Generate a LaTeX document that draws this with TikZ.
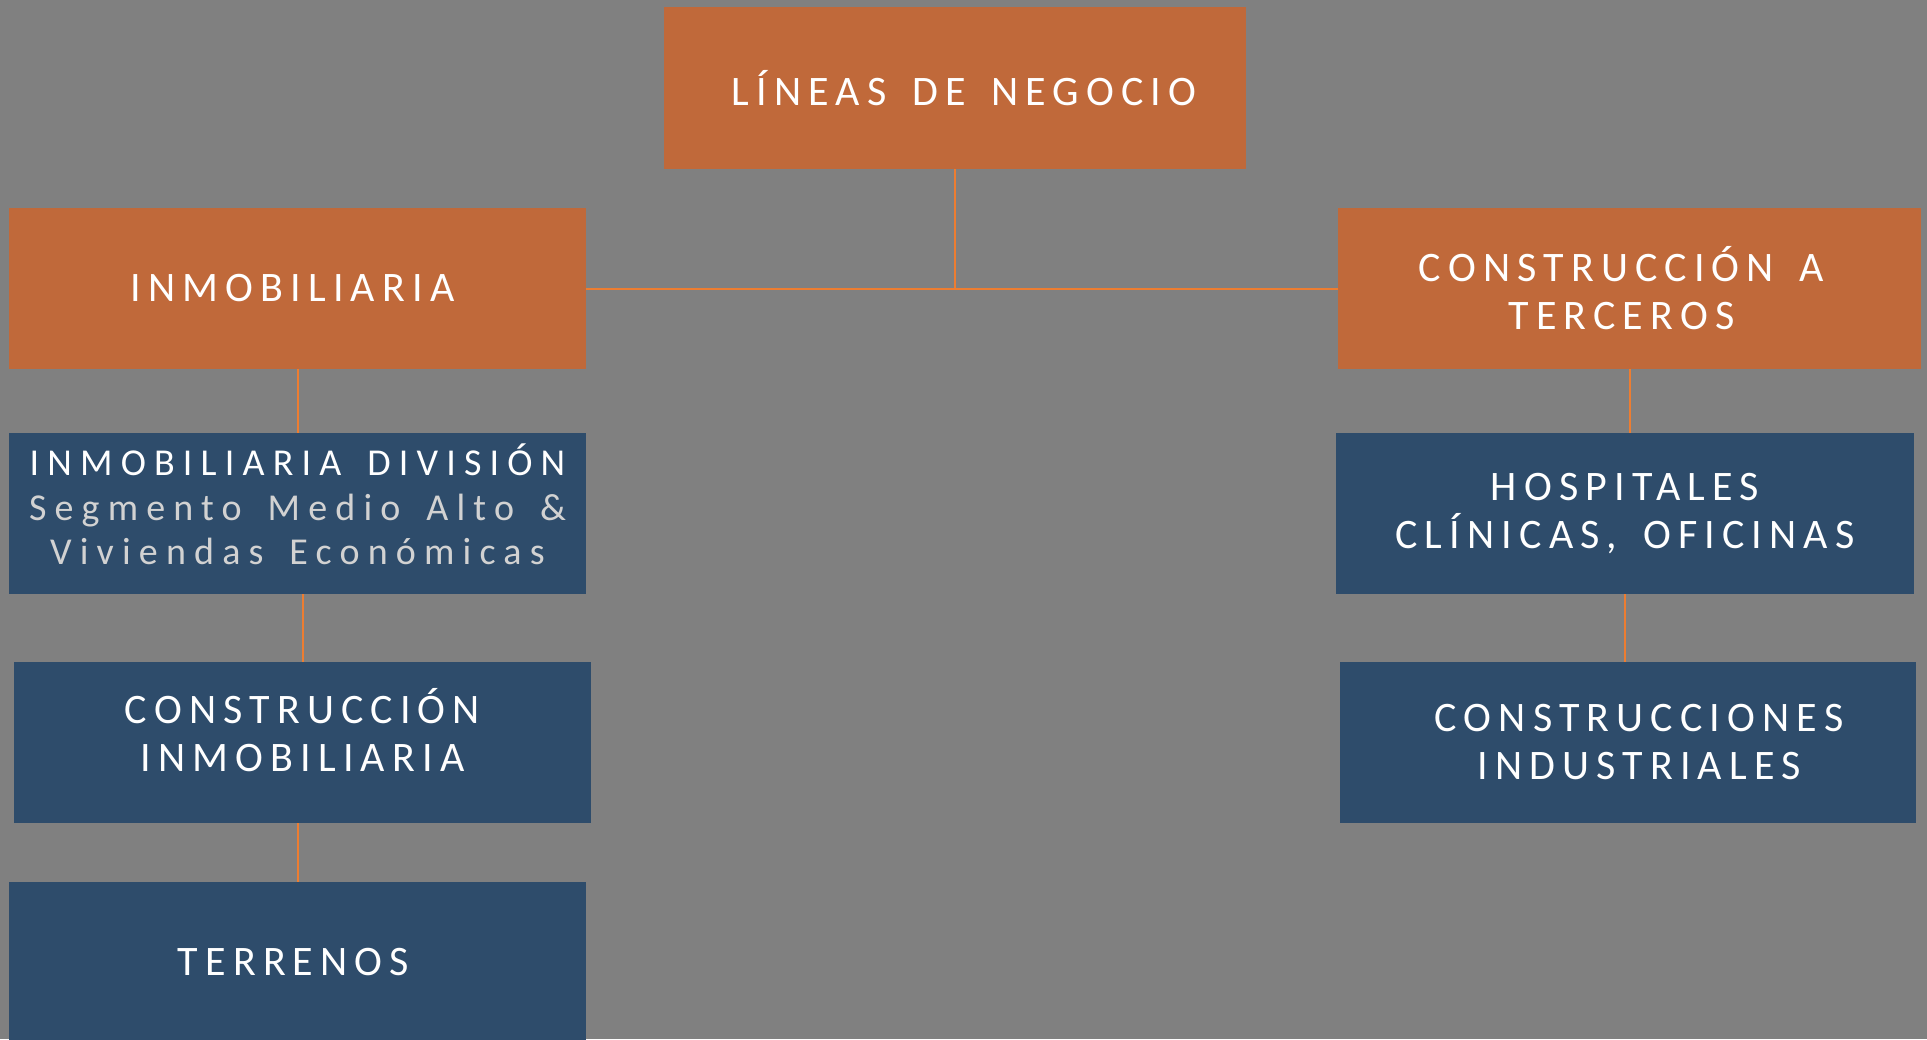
\documentclass[tikz,border=0pt]{standalone}
\usepackage{fontspec}
\setmainfont{Carlito}
\newfontfamily\boxfont{Carlito}[LetterSpace=17,WordSpace=1.55]
\newfontfamily\divfont{Carlito}[LetterSpace=21.5,WordSpace=1.55]
\definecolor{bgray}{HTML}{808080}
\definecolor{boxorange}{HTML}{C0693A}
\definecolor{boxblue}{HTML}{2E4C6B}
\definecolor{lineorange}{HTML}{ED7D31}
\definecolor{subgray}{HTML}{D2D2D2}
\tikzset{
  card/.style={minimum height=161pt, inner sep=0pt, align=center, text=white,
    font=\boxfont\fontsize{42}{48}\selectfont},
  orangecard/.style={card, fill=boxorange},
  bluecard/.style={card, fill=boxblue},
  link/.style={draw=lineorange, line width=2pt}
}
\begin{document}
\begin{tikzpicture}[x=1pt,y=-1pt]
\fill[bgray] (0,0) rectangle (1927,1039);
\useasboundingbox (0,0) rectangle (1927,1039);
\node[orangecard, minimum width=582pt, minimum height=162pt] (top) at (955,88) {\hspace*{18pt}LÍNEAS DE NEGOCIO};
\node[orangecard, minimum width=577pt] (inm) at (297.5,288.5) {INMOBILIARIA\hspace*{10pt}};
\node[orangecard, minimum width=583pt] (cat) at (1629.5,288.5) {CONSTRUCCIÓN A\hspace*{16pt}\\TERCEROS\hspace*{16pt}};
\node[bluecard, minimum width=577pt, font=\divfont\fontsize{38}{44.5}\selectfont] (div) at (297.5,513.5) {INMOBILIARIA DIVISIÓN\\\textcolor{subgray}{Segmento Medio Alto \&}\\\textcolor{subgray}{Viviendas Económicas}\rule[-18pt]{0pt}{0pt}};
\node[bluecard, minimum width=578pt] (hosp) at (1625,513.5) {HOSPITALES\\CLÍNICAS, OFICINAS};
\node[bluecard, minimum width=577pt] (cinm) at (302.5,742.5) {CONSTRUCCIÓN\\INMOBILIARIA\rule[-26pt]{0pt}{0pt}};
\node[bluecard, minimum width=576pt] (cind) at (1628,742.5) {\hspace*{22pt}CONSTRUCCIONES\\\hspace*{22pt}INDUSTRIALES};
\node[bluecard, minimum width=577pt, minimum height=160pt] (terr) at (297.5,962) {TERRENOS\hspace*{8pt}};
\draw[link] (top.south) -- (top.south |- inm.east);
\draw[link] (inm.east) -- (cat.west);
\draw[link] (inm.south) -- (div.north -| inm.south);
\draw[link] (cinm.north |- div.south) -- (cinm.north);
\draw[link] (terr.north |- cinm.south) -- (terr.north);
\draw[link] (cat.south) -- (cat.south |- hosp.north);
\draw[link] (hosp.south) -- (hosp.south |- cind.north);
\end{tikzpicture}
\end{document}
